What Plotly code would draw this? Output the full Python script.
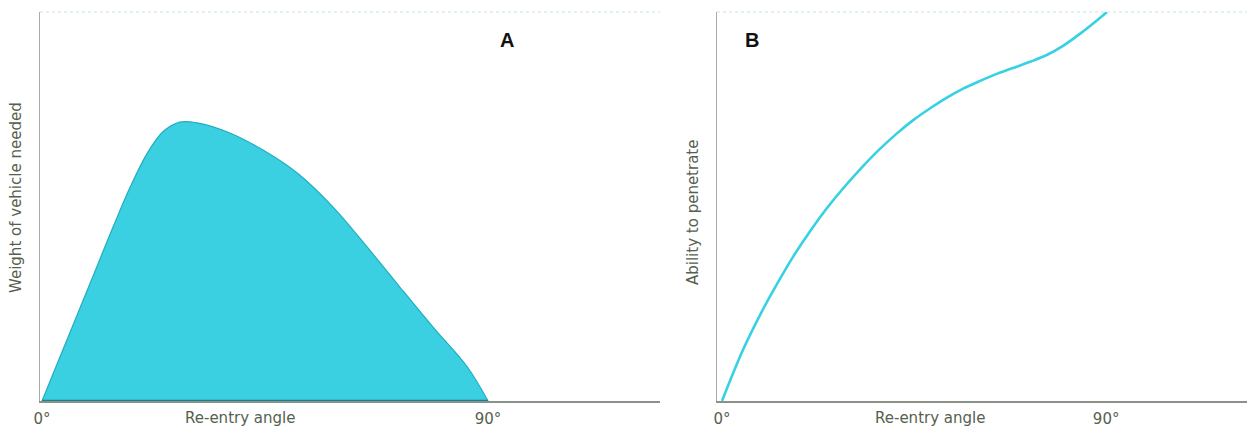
import plotly.graph_objects as go

# Panel A: weight of vehicle needed vs re-entry angle (degrees)
angle_a = [0, 4.2, 7.7, 11.1, 14.3, 17.8, 21.2, 24.4, 27.8, 31.3, 37.9, 44.6, 51.5, 58.7, 65.6, 72.2, 78.9, 85.8, 90]
weight_a = [0, 13.1, 24.0, 34.6, 44.6, 55.0, 63.6, 69.2, 71.7, 71.5, 68.9, 64.5, 58.6, 49.9, 39.6, 29.3, 19.0, 8.8, 0]

# Panel B: ability to penetrate vs re-entry angle (degrees)
angle_b = [0, 4.9, 8.9, 12.9, 16.6, 20.6, 24.6, 28.4, 32.3, 37.0, 41.0, 44.8, 48.7, 52.7, 56.5, 60.5, 64.4, 68.2, 72.2, 76.2, 79.9, 84.0, 87.9, 90.2]
ability_b = [0, 13.1, 22.1, 30.1, 37.0, 43.6, 49.6, 54.7, 59.5, 64.8, 68.8, 72.2, 75.2, 78.0, 80.3, 82.3, 84.1, 85.6, 87.2, 89.0, 91.3, 94.5, 97.9, 100]

tick_vals = [0, 90]
tick_text_a = ["0°", "90°"]
tick_text_b = ["0°", "90°"]

W, H = 1252, 429
TXT = "#56604f"
FONT = "DejaVu Sans, Open Sans, sans-serif"

fig = go.Figure()

fig.add_trace(go.Scatter(
    x=angle_a, y=weight_a, mode="lines", line=dict(color="#22aebf", width=1.2, shape="spline", smoothing=1.0),
    fill="tozeroy", fillcolor="#3acfe1", xaxis="x", yaxis="y", hoverinfo="skip", showlegend=False))
fig.add_trace(go.Scatter(
    x=[angle_a[0], angle_a[-1]], y=[0, 0], mode="lines", line=dict(color="#1b7f8e", width=2.5),
    xaxis="x", yaxis="y", hoverinfo="skip", showlegend=False, cliponaxis=False))

fig.add_trace(go.Scatter(
    x=angle_b, y=ability_b, mode="lines", line=dict(color="#36d1e2", width=2.6, shape="spline", smoothing=1.0),
    xaxis="x2", yaxis="y2", hoverinfo="skip", showlegend=False))

def px(p):
    return p / W

def py(p):
    return 1 - (p - 12) / 389

xa_common = dict(showgrid=False, zeroline=False, showline=True, linecolor="#8c928a", linewidth=1.5,
                 tickmode="array", tickvals=tick_vals, ticks="outside", ticklen=3, tickcolor="rgba(0,0,0,0)",
                 tickfont=dict(family=FONT, size=15, color=TXT), fixedrange=True, automargin=False)
ya_common = dict(showgrid=False, zeroline=False, showline=True, linecolor="#a8aca4", linewidth=1.3,
                 showticklabels=False, ticks="", range=[0, 100], fixedrange=True, automargin=False)

fig.update_layout(
    width=W, height=H,
    margin=dict(l=0, r=0, t=12, b=28, autoexpand=False),
    paper_bgcolor="white", plot_bgcolor="white",
    xaxis=dict(domain=[px(40), px(660)], range=[-0.4, 124.7], ticktext=tick_text_a, anchor="y", **xa_common),
    yaxis=dict(domain=[0, 1], anchor="x", **ya_common),
    xaxis2=dict(domain=[px(717), px(1247)], range=[-1.17, 123.0], ticktext=tick_text_b, anchor="y2", **xa_common),
    yaxis2=dict(domain=[0, 1], anchor="x2", **ya_common),
)

ann = [
    dict(text="Re-entry angle", x=40, y=py(418), xref="x", yref="paper", showarrow=False,
         xanchor="center", yanchor="middle", font=dict(family=FONT, size=15, color=TXT)),
    dict(text="Re-entry angle", x=48.7, y=py(418), xref="x2", yref="paper", showarrow=False,
         xanchor="center", yanchor="middle", font=dict(family=FONT, size=15, color=TXT)),
    dict(text="Weight of vehicle needed", x=px(16), y=py(198), xref="paper", yref="paper",
         xanchor="center", yanchor="middle", textangle=-90, showarrow=False,
         font=dict(family=FONT, size=15, color=TXT)),
    dict(text="Ability to penetrate", x=px(693), y=py(212), xref="paper", yref="paper",
         xanchor="center", yanchor="middle", textangle=-90, showarrow=False,
         font=dict(family=FONT, size=15, color=TXT)),
    dict(text="<b>A</b>", x=px(507), y=py(40), xref="paper", yref="paper", showarrow=False,
         xanchor="center", yanchor="middle",
         font=dict(family="Liberation Sans, Arial, sans-serif", size=20, color="#111111")),
    dict(text="<b>B</b>", x=px(752), y=py(40), xref="paper", yref="paper", showarrow=False,
         xanchor="center", yanchor="middle",
         font=dict(family="Liberation Sans, Arial, sans-serif", size=20, color="#111111")),
]
fig.update_layout(annotations=ann)

# faint top borders of the printed frames
fig.update_layout(shapes=[
    dict(type="line", xref="paper", yref="paper", x0=px(40), x1=px(660), y0=1, y1=1,
         line=dict(color="#d6eef0", width=1.5, dash="dot")),
    dict(type="line", xref="paper", yref="paper", x0=px(717), x1=px(1247), y0=1, y1=1,
         line=dict(color="#d6eef0", width=1.5, dash="dot")),
])

fig.write_html("out.html", config={"displayModeBar": False},
               post_script="document.body.style.margin='0';document.body.style.overflow='hidden';")
